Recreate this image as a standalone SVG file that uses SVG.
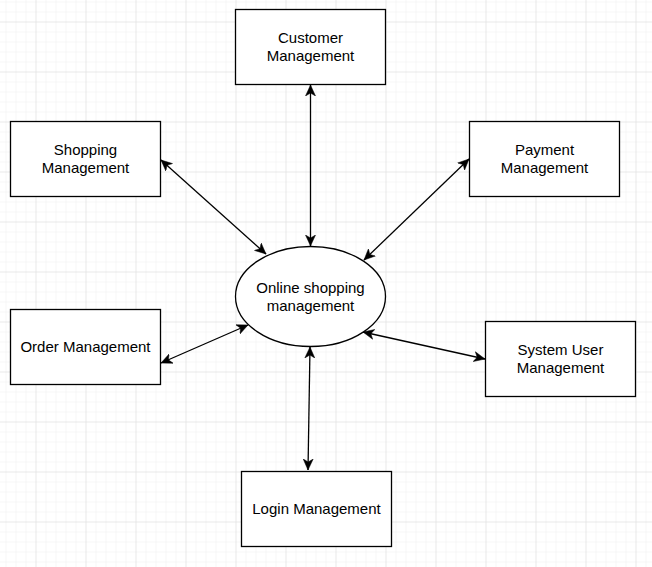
<svg xmlns="http://www.w3.org/2000/svg" width="652" height="567" viewBox="0 0 652 567">
<defs>
<pattern id="minor" x="5.5" y="1.5" width="10" height="10" patternUnits="userSpaceOnUse">
<path d="M0,0 H10 M0,0 V10" fill="none" stroke="#f0f0f0" stroke-width="1"/>
</pattern>
<pattern id="major" x="35.5" y="21.5" width="50" height="50" patternUnits="userSpaceOnUse">
<path d="M0,0 H50 M0,0 V50" fill="none" stroke="#dedede" stroke-width="1"/>
</pattern>
<marker id="arr" markerUnits="userSpaceOnUse" markerWidth="12" markerHeight="11" refX="11" refY="5" orient="auto-start-reverse" viewBox="0 0 12 10">
<path d="M0,0 L11,5 L0,10 L3,5 Z" fill="#000" stroke="#000" stroke-width="0.5"/>
</marker>
</defs>
<style>
.box{fill:#fff;stroke:#000;stroke-width:1.3}
.lbl{font-family:"Liberation Sans",Arial,sans-serif;font-size:15px;fill:#000;text-anchor:middle}
.con{stroke:#000;stroke-width:1.3;fill:none;marker-start:url(#arr);marker-end:url(#arr)}
</style>
<rect width="652" height="567" fill="#fff"/>
<rect width="652" height="567" fill="url(#minor)"/>
<rect width="652" height="567" fill="url(#major)"/>
<g id="connectors">
<line class="con" x1="310.5" y1="85" x2="310.5" y2="246"/>
<line class="con" x1="161" y1="160" x2="266" y2="254"/>
<line class="con" x1="469" y1="159" x2="364" y2="260"/>
<line class="con" x1="161" y1="363" x2="248" y2="325"/>
<line class="con" x1="485" y1="359" x2="363" y2="332"/>
<line class="con" x1="310" y1="347" x2="308" y2="470"/>
</g>
<g id="customer">
<rect class="box" x="235.5" y="9.5" width="150" height="75"/>
<text class="lbl" x="310.5" y="43">Customer</text>
<text class="lbl" x="310.5" y="61">Management</text>
</g>
<g id="shopping">
<rect class="box" x="10.5" y="121.5" width="150" height="75"/>
<text class="lbl" x="85.5" y="155">Shopping</text>
<text class="lbl" x="85.5" y="173">Management</text>
</g>
<g id="payment">
<rect class="box" x="469.5" y="121.5" width="150" height="75"/>
<text class="lbl" x="544.5" y="155">Payment</text>
<text class="lbl" x="544.5" y="173">Management</text>
</g>
<g id="center">
<ellipse class="box" cx="310.5" cy="296.5" rx="75" ry="50"/>
<text class="lbl" x="310.5" y="293">Online shopping</text>
<text class="lbl" x="310.5" y="311">management</text>
</g>
<g id="order">
<rect class="box" x="10.5" y="309.5" width="150" height="75"/>
<text class="lbl" x="85.5" y="352">Order Management</text>
</g>
<g id="systemuser">
<rect class="box" x="485.5" y="321.5" width="150" height="75"/>
<text class="lbl" x="560.5" y="355">System User</text>
<text class="lbl" x="560.5" y="373">Management</text>
</g>
<g id="login">
<rect class="box" x="241.5" y="471.5" width="150" height="75"/>
<text class="lbl" x="316.5" y="514">Login Management</text>
</g>
</svg>
